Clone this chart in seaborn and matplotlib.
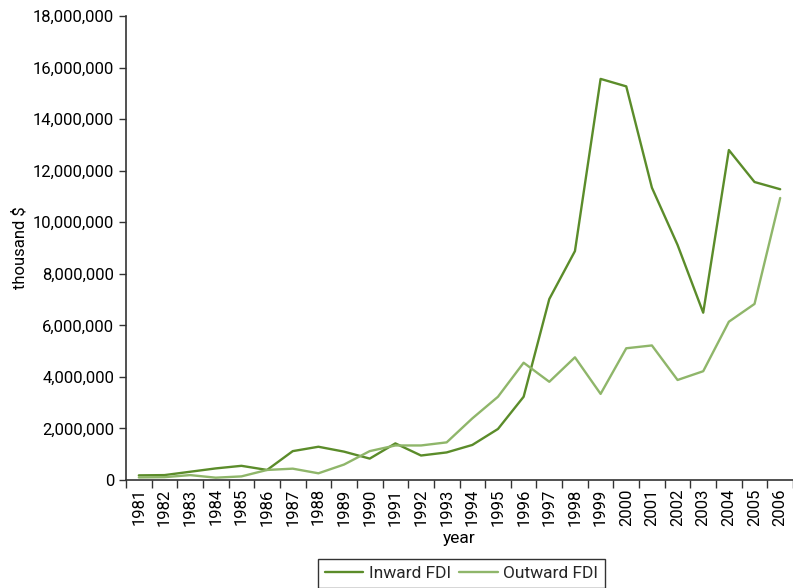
import matplotlib
matplotlib.use("Agg")
import matplotlib.pyplot as plt
from matplotlib.ticker import FuncFormatter, FixedLocator
from matplotlib import font_manager
import seaborn as sns
import pandas as pd

years = [str(y) for y in range(1981, 2007)]
inward = [180000, 190000, 320000, 450000, 550000, 390000, 1120000, 1290000, 1100000, 830000,
          1420000, 950000, 1070000, 1360000, 1980000, 3230000, 7020000, 8880000, 15560000, 15270000,
          11340000, 9120000, 6490000, 12800000, 11560000, 11280000]
outward = [100000, 110000, 190000, 90000, 140000, 390000, 440000, 260000, 600000, 1120000,
           1340000, 1340000, 1460000, 2390000, 3230000, 4550000, 3810000, 4760000, 3340000, 5110000,
           5220000, 3880000, 4220000, 6140000, 6830000, 10940000]
series_names = ["Inward FDI", "Outward FDI"]
colors = ["#5b8c2a", "#8fb66a"]

sns.set_theme(style="white")
names = {f.name for f in font_manager.fontManager.ttflist}
fam = "Liberation Sans Narrow" if "Liberation Sans Narrow" in names else "Roboto"
plt.rcParams["font.family"] = [fam, "DejaVu Sans"]

df = pd.DataFrame({
    "pos": list(range(len(years))) * 2,
    "value": inward + outward,
    "series": [series_names[0]] * len(years) + [series_names[1]] * len(years),
})

fig = plt.figure(figsize=(7.93, 5.88), dpi=100)
ax = fig.add_axes([126 / 793, 108 / 588, 667 / 793, 464 / 588])
sns.lineplot(data=df, x="pos", y="value", hue="series", palette=colors, linewidth=1.7, ax=ax, legend=True)

ax.set_xlim(-0.5, len(years) - 0.5)
ax.set_ylim(0, 18000000)
ax.set_yticks(range(0, 18000001, 2000000))
ax.yaxis.set_major_formatter(FuncFormatter(lambda v, p: f"{int(v):,}"))
ax.set_xticks(range(len(years)))
ax.set_xticklabels(years, rotation=90)
ax.xaxis.set_minor_locator(FixedLocator([i - 0.5 for i in range(len(years) + 1)]))
ax.tick_params(axis="x", which="major", length=0, pad=6, labelsize=12, colors="black")
ax.tick_params(axis="x", which="minor", length=6, width=1, direction="out", color="#333333", bottom=True)
ax.tick_params(axis="y", length=5, width=1, direction="out", color="#333333", left=True, labelsize=12, labelcolor="black")
for s in ["top", "right"]:
    ax.spines[s].set_visible(False)
for s in ["left", "bottom"]:
    ax.spines[s].set_color("#333333")
    ax.spines[s].set_linewidth(1.2)

ax.set_xlabel("year", fontsize=12.5, color="black", labelpad=4)
ax.set_ylabel("thousand $", fontsize=12, color="black", labelpad=4)

handles, labels = ax.get_legend_handles_labels()
leg = fig.legend(handles, labels, loc="lower center", bbox_to_anchor=(0.582, -0.014), ncol=2,
                 frameon=True, fancybox=False, edgecolor="black", fontsize=12.5,
                 handlelength=2.2, handletextpad=0.3, columnspacing=0.5, borderpad=0.4)
leg.get_frame().set_linewidth(1.0)
ax.get_legend().remove()

fig.savefig("out.png", dpi=100)
